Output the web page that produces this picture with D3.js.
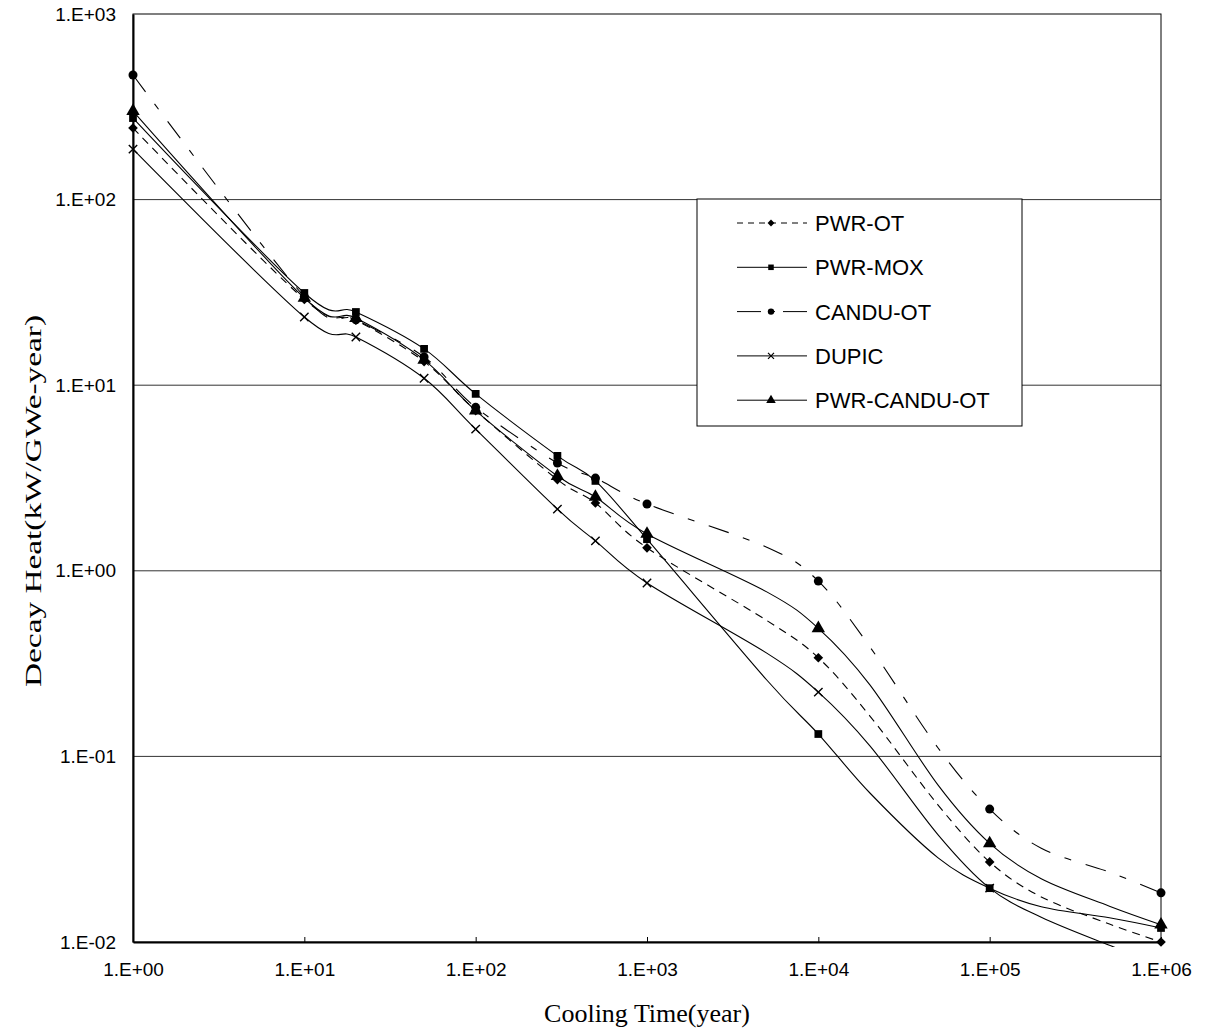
<!DOCTYPE html>
<html>
<head>
<meta charset="utf-8">
<script src="https://cdn.jsdelivr.net/npm/d3@7"></script>
<style>
  body { margin: 0; background: #fff; }
  svg { display: block; }
</style>
</head>
<body>
<div class="decay-chart"></div>
<script>
// ------------------------------------------------------
const years = [1, 10, 20, 50, 100, 300, 500, 1000, 5000, 1e4, 2e4, 5e4, 1e5, 2e5, 5e5, 1e6];
const markerYears = [1, 10, 20, 50, 100, 300, 500, 1000, 1e4, 1e5, 1e6];
const seriesNames = ['PWR-OT', 'PWR-MOX', 'CANDU-OT', 'DUPIC', 'PWR-CANDU-OT'];
const pwrOt = [243, 29, 22.4, 13.4, 7.3, 3.1, 2.32, 1.33, 0.54, 0.34, 0.165, 0.0547, 0.027, 0.0175, 0.0125, 0.0100];
const pwrMox = [275, 31.4, 24.8, 15.7, 8.98, 4.16, 3.05, 1.48, 0.258, 0.132, 0.0635, 0.0284, 0.0195, 0.0155, 0.0135, 0.0119];
const canduOt = [469, 30, 22.5, 14.2, 7.6, 3.81, 3.16, 2.29, 1.34, 0.88, 0.389, 0.111, 0.052, 0.032, 0.0238, 0.0184];
const dupic = [187, 23.3, 18.2, 10.9, 5.8, 2.15, 1.45, 0.86, 0.36, 0.222, 0.114, 0.0378, 0.0195, 0.0136, 0.0096, 0.0075];
const pwrCanduOt = [300, 29.5, 23, 13.7, 7.3, 3.24, 2.5, 1.58, 0.77, 0.49, 0.243, 0.070, 0.034, 0.0219, 0.0156, 0.0124];
const xTicks = [1, 10, 100, 1000, 1e4, 1e5, 1e6];
const xTickLabels = ['1.E+00', '1.E+01', '1.E+02', '1.E+03', '1.E+04', '1.E+05', '1.E+06'];
const yTicks = [0.01, 0.1, 1, 10, 100, 1000];
const yTickLabels = ['1.E-02', '1.E-01', '1.E+00', '1.E+01', '1.E+02', '1.E+03'];
// ------------------------------------------------------
const width = 1206;
const height = 1033;
const margin = { top: 14, right: 45, bottom: 91, left: 133 };
const plotW = width - margin.left - margin.right;
const plotH = height - margin.top - margin.bottom;
const sansFont = '"Liberation Sans", Arial, sans-serif';
const serifFont = '"Liberation Serif", "Times New Roman", serif';

const seriesValues = [pwrOt, pwrMox, canduOt, dupic, pwrCanduOt];
const dashes = ['8,6', null, '21,15,7,15', null, null];
const markerTypes = ['diamond', 'square', 'circle', 'cross', 'triangle'];

const series = seriesNames.map(function (name, i) {
    return {
        name: name,
        dash: dashes[i],
        marker: markerTypes[i],
        points: years.map(function (yr, j) { return { year: yr, value: seriesValues[i][j] }; })
    };
});
// ------------------------------------------------------
function markerPath(type, s) {
    if (type === 'cross') {
        return 'M' + (-s) + ',' + (-s) + 'L' + s + ',' + s + 'M' + (-s) + ',' + s + 'L' + s + ',' + (-s);
    }
    if (type === 'diamond') {
        let r = s * 1.15;
        return 'M0,' + (-r) + 'L' + r + ',0L0,' + r + 'L' + (-r) + ',0Z';
    }
    const symbols = {
        square: [d3.symbolSquare, 3.4 * s * s],
        circle: [d3.symbolCircle, 3.6 * s * s],
        triangle: [d3.symbolTriangle, 4.4 * s * s]
    };
    return d3.symbol().type(symbols[type][0]).size(symbols[type][1])();
}
// ------------------------------------------------------
window.addEventListener('load', function () {
    let svg = d3.select('.decay-chart')
        .append('svg')
        .attr('width', width)
        .attr('height', height);

    let x = d3.scaleLog().domain([1, 1e6]).range([margin.left, margin.left + plotW]);
    let y = d3.scaleLog().domain([0.01, 1000]).range([margin.top + plotH, margin.top]);

    // gridlines
    svg.append('g')
        .selectAll('line')
        .data(yTicks.slice(1, -1))
        .enter()
        .append('line')
        .attr('x1', margin.left).attr('x2', margin.left + plotW)
        .attr('y1', d => y(d)).attr('y2', d => y(d))
        .attr('stroke', '#333').attr('stroke-width', 1);

    // frame
    svg.append('rect')
        .attr('x', margin.left).attr('y', margin.top)
        .attr('width', plotW).attr('height', plotH)
        .attr('fill', 'none').attr('stroke', '#000').attr('stroke-width', 1);

    // x axis
    let xAxis = svg.append('g')
        .attr('transform', 'translate(0,' + (margin.top + plotH) + ')')
        .call(d3.axisBottom(x)
            .tickValues(xTicks)
            .tickSize(-5)
            .tickSizeOuter(0)
            .tickPadding(21)
            .tickFormat((d, i) => xTickLabels[i]));
    xAxis.select('.domain').attr('stroke', '#000').attr('stroke-width', 2);
    xAxis.selectAll('.tick line').attr('stroke', '#000');
    xAxis.selectAll('text').attr('font-family', sansFont).attr('font-size', 19).attr('fill', '#000');

    // y axis
    let yAxis = svg.append('g')
        .attr('transform', 'translate(' + margin.left + ',0)')
        .call(d3.axisLeft(y)
            .tickValues(yTicks)
            .tickSize(0)
            .tickPadding(17)
            .tickFormat((d, i) => yTickLabels[i]));
    yAxis.select('.domain').attr('stroke', '#000').attr('stroke-width', 2);
    yAxis.selectAll('text').attr('font-family', sansFont).attr('font-size', 19).attr('fill', '#000');

    // clip
    svg.append('clipPath').attr('id', 'plot-clip')
        .append('rect')
        .attr('x', margin.left - 20).attr('y', margin.top - 2)
        .attr('width', plotW + 40).attr('height', plotH + 7);

    let line = d3.line()
        .x(d => x(d.year))
        .y(d => y(d.value))
        .curve(d3.curveCardinal.tension(0));

    let plotGroup = svg.append('g').attr('clip-path', 'url(#plot-clip)');

    let seriesGroups = plotGroup.selectAll('.series')
        .data(series)
        .enter()
        .append('g')
        .classed('series', true);

    seriesGroups.append('path')
        .attr('d', d => line(d.points))
        .attr('fill', 'none')
        .attr('stroke', '#000')
        .attr('stroke-width', 1.1)
        .attr('stroke-dasharray', d => d.dash);

    seriesGroups.each(function (s) {
        d3.select(this).selectAll('.marker')
            .data(s.points.filter(p => markerYears.indexOf(p.year) >= 0))
            .enter()
            .append('path')
            .classed('marker', true)
            .attr('transform', p => 'translate(' + x(p.year) + ',' + y(p.value) + ')')
            .attr('d', markerPath(s.marker, 4.2))
            .attr('fill', '#000')
            .attr('stroke', '#000')
            .attr('stroke-width', s.marker === 'cross' ? 1.4 : 0);
    });

    // legend
    let legend = svg.append('g').attr('transform', 'translate(697,199)');
    legend.append('rect')
        .attr('width', 325).attr('height', 227)
        .attr('fill', '#fff').attr('stroke', '#000').attr('stroke-width', 1);

    let items = legend.selectAll('.legend-item')
        .data(series)
        .enter()
        .append('g')
        .classed('legend-item', true)
        .attr('transform', (d, i) => 'translate(0,' + (24 + i * 44.3) + ')');

    items.append('line')
        .attr('x1', 40).attr('x2', 110)
        .attr('stroke', '#000').attr('stroke-width', 1)
        .attr('stroke-dasharray', d => d.dash ? (d.marker === 'circle' ? '24,8,6,8' : '6,5') : null);

    items.append('path')
        .attr('transform', 'translate(74,0)')
        .attr('d', d => markerPath(d.marker, 3))
        .attr('fill', '#000')
        .attr('stroke', '#000')
        .attr('stroke-width', d => d.marker === 'cross' ? 1.2 : 0);

    items.append('text')
        .attr('x', 118).attr('y', 8)
        .attr('font-family', sansFont)
        .attr('font-size', 22)
        .attr('fill', '#000')
        .text(d => d.name);

    // axis titles
    svg.append('text')
        .attr('x', margin.left + plotW / 2).attr('y', 1022)
        .attr('text-anchor', 'middle')
        .attr('font-family', serifFont)
        .attr('font-size', 26)
        .text('Cooling Time(year)');

    svg.append('text')
        .attr('transform', 'translate(41,501) rotate(-90)')
        .attr('text-anchor', 'middle')
        .attr('font-family', serifFont)
        .attr('font-size', 24)
        .attr('textLength', 372)
        .attr('lengthAdjust', 'spacingAndGlyphs')
        .text('Decay Heat(kW/GWe-year)');
}, false);
</script>
</body>
</html>
